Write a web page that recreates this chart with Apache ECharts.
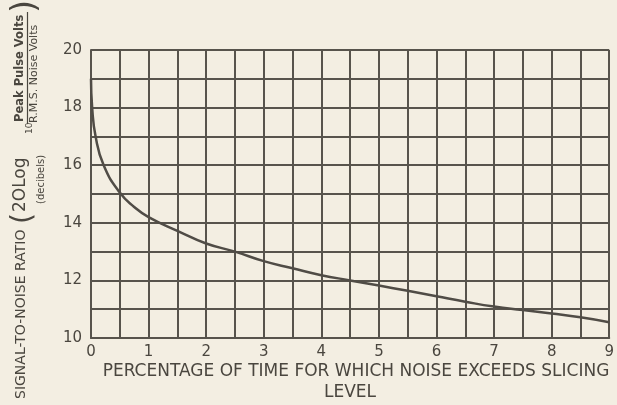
<!DOCTYPE html>
<html>
<head>
<meta charset="utf-8">
<script src="https://cdn.jsdelivr.net/npm/echarts@6/dist/echarts.min.js"></script>
<style>
html,body{margin:0;padding:0;background:#f3eee2;}
#c{width:617px;height:405px;}
</style>
</head>
<body>
<div id="c"></div>
<script>
// Percentage of time for which noise exceeds slicing level
const xValues = [0, 0.02, 0.08, 0.22, 0.5, 0.75, 1, 1.5, 2, 2.5, 3, 3.5, 4, 4.5, 5, 5.5, 6, 6.5, 7, 7.5, 8, 8.5, 9];
// Signal-to-noise ratio (dB)
const snrValues = [19.0, 18.0, 17.0, 16.0, 15.05, 14.55, 14.2, 13.72, 13.28, 13.0, 12.67, 12.42, 12.18, 12.0, 11.82, 11.64, 11.45, 11.26, 11.09, 10.97, 10.85, 10.72, 10.55];
const xTickLabels = ['0','1','2','3','4','5','6','7','8','9'];
const yTickLabels = ['10','12','14','16','18','20'];

const ink = '#57534c';
const txt = '#4a463f';
const font = '"DejaVu Sans", sans-serif';

const chart = echarts.init(document.getElementById('c'));
chart.setOption({
  backgroundColor: '#f3eee2',
  animation: false,
  grid: {left: 91, right: 4, top: 50, bottom: 67, containLabel: false},
  xAxis: {
    type: 'value', min: 0, max: 9, interval: 0.5,
    axisLine: {show: true, lineStyle: {color: ink, width: 2}},
    axisTick: {show: false},
    splitLine: {show: true, lineStyle: {color: ink, width: 2}},
    axisLabel: {
      color: txt, fontSize: 15, fontFamily: font, margin: 7,
      formatter: v => xTickLabels.includes(String(v)) ? String(v) : ''
    }
  },
  yAxis: {
    type: 'value', min: 10, max: 20, interval: 1,
    axisLine: {show: true, lineStyle: {color: ink, width: 2}},
    axisTick: {show: false},
    splitLine: {show: true, lineStyle: {color: ink, width: 2}},
    axisLabel: {
      color: txt, fontSize: 15, fontFamily: font, margin: 9,
      formatter: v => yTickLabels.includes(String(v)) ? String(v) : ''
    }
  },
  series: [{
    type: 'line',
    data: xValues.map((x, i) => [x, snrValues[i]]),
    smooth: 0.5,
    showSymbol: false,
    lineStyle: {color: '#504c46', width: 2.5}
  }],
  graphic: [
    {type: 'text', x: 356, y: 372, style: {text: 'PERCENTAGE OF TIME FOR WHICH NOISE EXCEEDS SLICING', fill: txt, font: '17px ' + font, textAlign: 'center', textVerticalAlign: 'middle'}},
    {type: 'text', x: 350, y: 393, style: {text: 'LEVEL', fill: txt, font: '17px ' + font, textAlign: 'center', textVerticalAlign: 'middle'}},
    {type: 'text', x: 21, y: 399, rotation: Math.PI / 2, style: {text: 'SIGNAL-TO-NOISE RATIO', fill: txt, font: '14px ' + font, textAlign: 'left', textVerticalAlign: 'middle'}},
    {type: 'text', x: 24, y: 224, rotation: Math.PI / 2, style: {text: '(', fill: txt, font: '28px ' + font, textAlign: 'left', textVerticalAlign: 'middle'}},
    {type: 'text', x: 21, y: 212, rotation: Math.PI / 2, style: {text: '2OLog', fill: txt, font: '17px ' + font, textAlign: 'left', textVerticalAlign: 'middle'}},
    {type: 'text', x: 30, y: 134, rotation: Math.PI / 2, style: {text: '10', fill: txt, font: '9px ' + font, textAlign: 'left', textVerticalAlign: 'middle'}},
    {type: 'text', x: 20, y: 122, rotation: Math.PI / 2, style: {text: 'Peak Pulse Volts', fill: txt, font: 'bold 11.5px ' + font, textAlign: 'left', textVerticalAlign: 'middle'}},
    {type: 'line', shape: {x1: 27.5, y1: 124, x2: 27.5, y2: 12}, style: {stroke: txt, lineWidth: 1.2}},
    {type: 'text', x: 34, y: 123, rotation: Math.PI / 2, style: {text: 'R.M.S. Noise Volts', fill: txt, font: '11px ' + font, textAlign: 'left', textVerticalAlign: 'middle'}},
    {type: 'text', x: 26, y: 13, rotation: Math.PI / 2, style: {text: ')', fill: txt, font: '34px ' + font, textAlign: 'left', textVerticalAlign: 'middle'}},
    {type: 'text', x: 41, y: 204, rotation: Math.PI / 2, style: {text: '(decibels)', fill: txt, font: '10px ' + font, textAlign: 'left', textVerticalAlign: 'middle'}}
  ]
});
</script>
</body>
</html>
